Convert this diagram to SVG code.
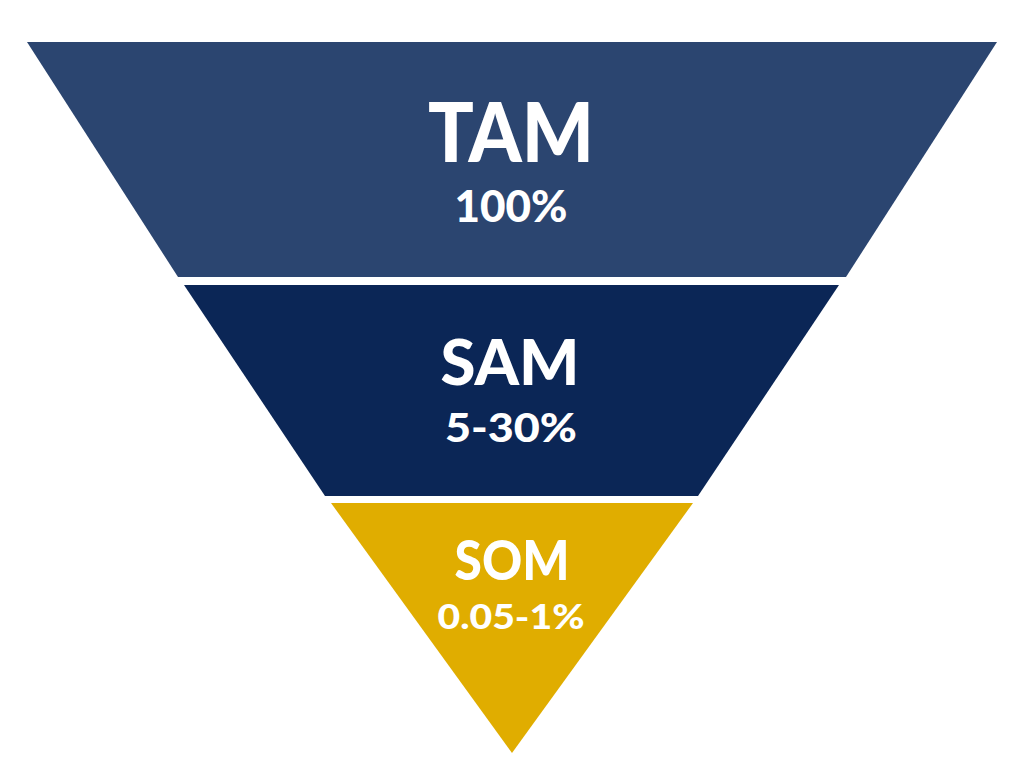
<svg xmlns="http://www.w3.org/2000/svg" width="1024" height="768" viewBox="0 0 1024 768">
<style>
  .lbl { font-family: Lato, "Open Sans", "Liberation Sans", sans-serif; font-weight: 900; fill: #ffffff; text-anchor: middle; }
</style>
<rect width="1024" height="768" fill="#ffffff"/>
<g id="tam">
  <polygon points="27,42 997,42 846,277 178,277" fill="#2B4570"/>
  <text class="lbl" x="511" y="162" font-size="82" textLength="166" lengthAdjust="spacingAndGlyphs">TAM</text>
  <text class="lbl" x="511" y="222" font-size="44" textLength="113" lengthAdjust="spacingAndGlyphs">100%</text>
</g>
<g id="sam">
  <polygon points="184,285 839,285 698,496 325,496" fill="#0B2656"/>
  <text class="lbl" x="510" y="385" font-size="63" textLength="139" lengthAdjust="spacingAndGlyphs">SAM</text>
  <text class="lbl" x="511" y="442" font-size="39" textLength="132" lengthAdjust="spacingAndGlyphs">5-30%</text>
</g>
<g id="som">
  <polygon points="331,503 693,503 512,753" fill="#E0AD00"/>
  <text class="lbl" x="512" y="580" font-size="55" textLength="115" lengthAdjust="spacingAndGlyphs">SOM</text>
  <text class="lbl" x="511" y="629" font-size="34" textLength="147" lengthAdjust="spacingAndGlyphs">0.05-1%</text>
</g>
<g id="connectors"/>
</svg>
